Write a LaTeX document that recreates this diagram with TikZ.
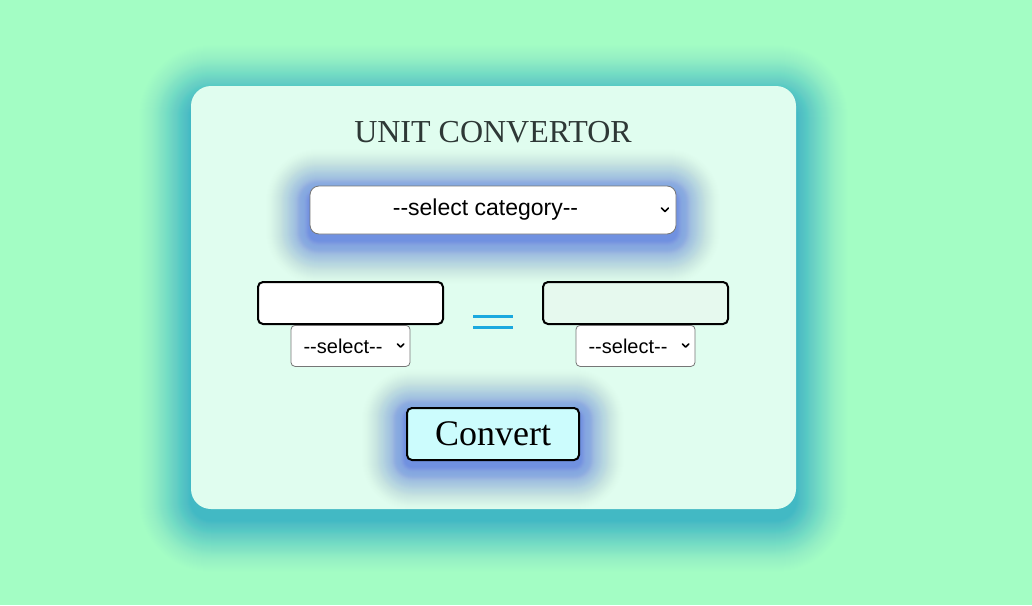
\documentclass[tikz,border=0pt]{standalone}
\usepackage{fontspec}
\setmainfont{Liberation Serif}
\newfontfamily\uisans{Liberation Sans}
\usetikzlibrary{positioning}

\definecolor{pagegreen}{HTML}{A3FDC4}
\definecolor{cardmint}{HTML}{E0FDEF}
\definecolor{cardglow}{HTML}{2CB8D1}
\definecolor{blueglow}{HTML}{3E62E0}
\definecolor{titlegray}{HTML}{2E3836}
\definecolor{selgray}{HTML}{767676}
\definecolor{eqblue}{HTML}{1AA9DF}
\definecolor{outmint}{HTML}{E6F9EE}
\definecolor{btncyan}{HTML}{CCFCFD}

\tikzset{
	card/.style={fill=cardmint, rounded corners=20pt, minimum width=605pt, minimum height=423pt, inner sep=0pt},
	field/.style={draw=black, line width=2pt, rounded corners=5pt, minimum width=185pt, minimum height=42pt, inner sep=0pt},
	dropdown/.style={draw=selgray, line width=0.8pt, fill=white, rounded corners=4pt, inner sep=0pt},
	chev/.style={line width=1.6pt, line cap=round, line join=round}
}

\begin{document}
\begin{tikzpicture}[x=1pt,y=-1pt]
	\useasboundingbox (0,0) rectangle (1032,605);
	\fill[pagegreen] (0,0) rectangle (1032,605);
	% soft shadows
	\foreach \r in {1,...,55} {
		\pgfmathsetmacro\op{0.034*(1-\r/56)}
		\fill[cardglow, opacity=\op, rounded corners=20+\r] (191-\r,97-\r) rectangle (796+\r,520+\r);
	}
	\node[card] (card) at (493.5,297.5) {};
	\foreach \r in {1,...,46} {
		\pgfmathsetmacro\op{0.036*(1-\r/47)}
		\fill[blueglow, opacity=\op, rounded corners=8+\r] (310-\r,193-\r) rectangle (676+\r,240+\r);
		\fill[blueglow, opacity=\op, rounded corners=6+\r] (406-\r,413-\r) rectangle (580+\r,466+\r);
	}

	\node[titlegray, font=\fontsize{32}{36}\selectfont] (title) at (493,132) {UNIT CONVERTOR};

	\node[dropdown, rounded corners=9pt, minimum width=366pt, minimum height=48pt, font=\uisans\fontsize{23}{27}\selectfont] (category) at (493,210) {--select category--\kern15pt};
	\draw[chev] ([xshift=-15pt,yshift=2pt]category.east) -- ++(3.5,3.5) -- ++(3.5,-3.5);

	\node[field, fill=white] (fromval) at (350.5,303) {};
	\node[field, fill=outmint] (toval) at (635.5,303) {};
	\node[dropdown, minimum width=119pt, minimum height=41pt, font=\uisans\fontsize{20}{24}\selectfont, below=0pt of fromval] (fromunit) {--select--\kern15pt};
	\node[dropdown, minimum width=119pt, minimum height=41pt, font=\uisans\fontsize{20}{24}\selectfont, below=0pt of toval] (tounit) {--select--\kern15pt};
	\draw[chev] ([xshift=-13pt,yshift=2pt]fromunit.east) -- ++(3.2,3.2) -- ++(3.2,-3.2);
	\draw[chev] ([xshift=-13pt,yshift=2pt]tounit.east) -- ++(3.2,3.2) -- ++(3.2,-3.2);

	\coordinate (eq) at (493,322);
	\draw[eqblue, line width=3.3pt] ([xshift=-20pt,yshift=5.5pt]eq) -- ++(40,0);
	\draw[eqblue, line width=3.3pt] ([xshift=-20pt,yshift=-5.5pt]eq) -- ++(40,0);

	\node[field, fill=btncyan, minimum width=172pt, minimum height=52pt, font=\fontsize{36}{40}\selectfont] (convert) at (493,434) {Convert};
\end{tikzpicture}
\end{document}
